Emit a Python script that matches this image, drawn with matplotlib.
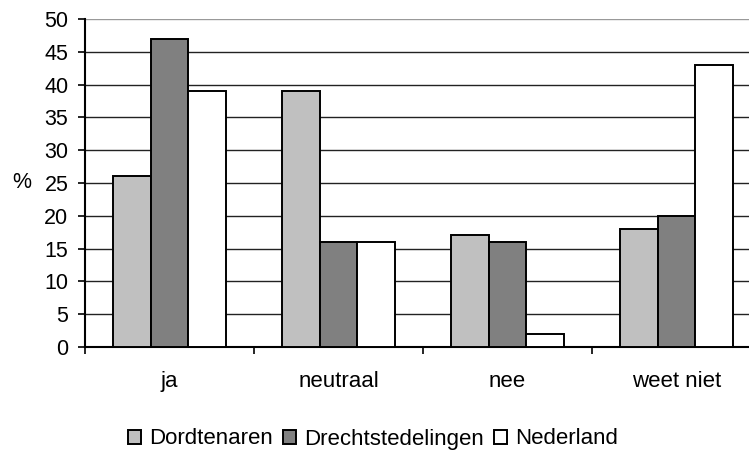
import matplotlib
matplotlib.use('Agg')
import matplotlib.pyplot as plt
import numpy as np

categories = ['ja', 'neutraal', 'nee', 'weet niet']
series_names = ['Dordtenaren', 'Drechtstedelingen', 'Nederland']
dordtenaren = [26, 39, 17, 18]
drechtstedelingen = [47, 16, 16, 20]
nederland = [39, 16, 2, 43]

colors = ['#c0c0c0', '#808080', '#ffffff']

plt.rcParams['font.family'] = ['Liberation Sans', 'DejaVu Sans']

fig = plt.figure(figsize=(7.49, 4.51), dpi=100)
# de as loopt rechts buiten het plaatje door, net als in het origineel
ax = fig.add_axes([85/749, 104/451, 676/749, 328/451])

x = np.arange(len(categories))
w = 0.222
for i, (vals, name) in enumerate(zip([dordtenaren, drechtstedelingen, nederland], series_names)):
    ax.bar(x + (i - 1) * w, vals, width=w, color=colors[i], edgecolor='black',
           linewidth=1.4, label=name, zorder=3)

ax.set_xlim(-0.5, 3.5)
ax.set_ylim(0, 50)
ax.set_yticks(range(0, 51, 5))
ax.tick_params(axis='y', labelsize=15.5, length=5, width=1.2, direction='out', pad=7)

ax.set_xticks(x)
ax.set_xticklabels(categories)
ax.set_xticks(np.arange(-0.5, 3.5, 1), minor=True)
ax.tick_params(axis='x', which='major', length=0, labelsize=16, pad=17)
ax.tick_params(axis='x', which='minor', length=5, width=1.2, direction='out')

ax.yaxis.grid(True, color='#222222', linewidth=1, zorder=0)
ax.set_axisbelow(True)
ax.yaxis.get_gridlines()[-1].set_color('#999999')

ax.spines['top'].set_visible(False)
ax.spines['right'].set_visible(False)
ax.spines['left'].set_linewidth(1.5)
ax.spines['bottom'].set_linewidth(1.5)

fig.text(22/749, 1 - 183/451, '%', fontsize=15.5, ha='center', va='center')

fig.legend(loc='center', bbox_to_anchor=(373/749, 12/451), ncol=3, frameon=False,
           fontsize=16, handlelength=0.6, handleheight=0.6, handletextpad=0.35,
           columnspacing=0.45, borderpad=0)

fig.savefig('out.png', dpi=100)
